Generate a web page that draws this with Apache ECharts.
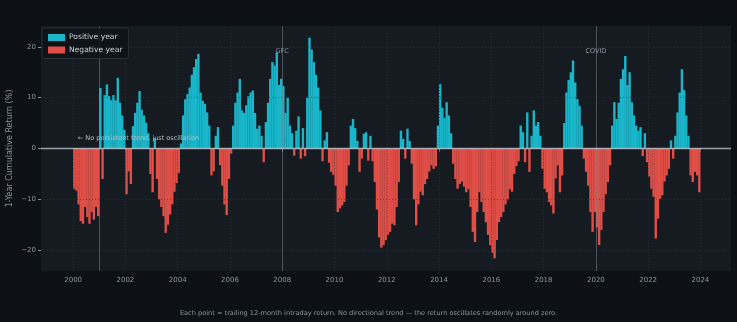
<!DOCTYPE html>
<html>
<head>
<meta charset="utf-8">
<title>1-Year Cumulative Return</title>
<script src="https://cdn.jsdelivr.net/npm/echarts@6/dist/echarts.min.js"></script>
<style>
  html, body { margin: 0; padding: 0; background: #0d1117; }
  #chart { width: 737px; height: 322px; }
</style>
</head>
<body>
<div id="chart"></div>
<script>
// Trailing 12-month return (%), one value per month starting Jan 2000
const startYear = 2000;
const monthlyReturn = [
  // 2000
  -7.9, -8.3, -11.0, -14.3, -14.8, -11.5, -13.5, -14.8, -12.5, -14.0, -11.5, -13.3,
  // 2001
  11.9, -6.0, 10.5, 12.6, 10.3, 9.5, 10.5, 9.5, 13.9, 9.0, 6.5, 3.7,
  // 2002
  -9.0, -4.5, -7.0, 4.4, 7.0, 9.0, 11.3, 7.6, 6.5, 5.1, 3.0, -5.0,
  // 2003
  -8.6, 2.0, -6.0, -10.0, -11.5, -13.3, -16.6, -15.0, -13.0, -11.0, -8.5, -6.8,
  // 2004
  -4.8, 1.0, 6.5, 9.7, 10.7, 12.0, 14.5, 16.0, 17.6, 18.6, 11.0, 9.4,
  // 2005
  8.8, 7.1, 4.5, -5.3, -4.5, 2.5, 4.2, -3.3, -7.3, -11.0, -13.1, -6.0,
  // 2006
  -1.0, 4.5, 9.0, 11.0, 13.7, 7.5, 7.0, 8.5, 10.3, 11.0, 11.4, 7.0,
  // 2007
  3.9, 4.5, 2.5, -2.7, 5.2, 9.0, 13.7, 17.0, 16.3, 18.9, 12.5, 13.7,
  // 2008
  12.3, 7.0, 10.0, 4.5, 3.0, -1.4, 3.5, 6.3, -2.0, 4.0, -1.5, 10.0,
  // 2009
  21.8, 19.5, 17.0, 14.5, 12.0, 7.5, -2.5, 1.6, 3.2, -2.8, -4.6, -5.2,
  // 2010
  -7.3, -12.5, -11.8, -11.2, -10.5, -7.3, -3.3, 4.5, 5.8, 4.0, 1.5, -4.6,
  // 2011
  -2.0, 2.9, 3.2, -2.4, 2.5, -2.5, -6.6, -12.0, -17.5, -19.5, -19.0, -18.0,
  // 2012
  -17.0, -16.4, -14.8, -15.1, -11.5, -6.6, 3.5, 1.9, -2.0, 3.9, 1.5, -3.0,
  // 2013
  -10.0, -15.1, -11.0, -8.5, -9.2, -7.0, -6.0, -4.5, -3.3, -4.0, -3.5, 4.5,
  // 2014
  12.7, 8.0, 6.0, 9.1, 6.5, 3.0, -3.0, -6.0, -7.9, -7.0, -6.5, -7.5,
  // 2015
  -8.6, -8.0, -11.5, -16.4, -18.4, -12.5, -8.6, -10.5, -12.5, -14.5, -17.0, -19.0,
  // 2016
  -20.5, -21.6, -18.0, -14.5, -13.5, -12.5, -11.0, -10.0, -8.0, -8.5, -5.0, -3.5,
  // 2017
  -2.5, 4.5, 3.2, -2.7, 7.1, -4.6, 2.5, 7.5, 4.5, 5.2, 2.5, -4.0,
  // 2018
  -7.9, -8.6, -10.5, -11.2, -12.8, -5.9, -3.3, -8.6, -5.3, 5.0, 11.0, 13.5,
  // 2019
  15.0, 17.3, 13.0, 9.7, 8.4, 4.5, -2.0, -4.6, -7.3, -12.5, -16.4, -12.5,
  // 2020
  -15.5, -19.0, -16.0, -12.5, -9.0, -6.6, -3.3, 4.5, 9.1, 5.8, 9.0, 13.7,
  // 2021
  15.6, 18.2, 12.5, 15.0, 9.1, 6.5, 4.5, 3.5, 4.2, -1.5, 3.0, -2.7,
  // 2022
  -5.5, -7.9, -9.5, -17.7, -13.8, -9.9, -9.2, -6.5, -5.3, -4.0, 1.6, -2.0,
  // 2023
  2.5, 7.1, 11.0, 15.6, 11.5, 6.5, 2.5, -5.3, -6.6, -4.6, -5.3, -8.6
];

const xTicks = [2000, 2002, 2004, 2006, 2008, 2010, 2012, 2014, 2016, 2018, 2020, 2022, 2024];
const yTicks = [-20, -10, 0, 10, 20];
const eventNames = ['Dot-com', 'GFC', 'COVID'];
const eventYears = [2001, 2008, 2020];
const noteText = '\u2190 No persistent trend, just oscillation';
const noteAnchor = [2000.18, 2.0];
const footerText = 'Each point = trailing 12-month intraday return. No directional trend \u2014 the return oscillates randomly around zero.';

const TEAL = '#19b6ca';
const RED = '#df4f48';
const MUTED = '#8b949e';
const FONT = 'DejaVu Sans';

// split the series by sign so each side gets its own colour / legend entry
const positive = [];
const negative = [];
monthlyReturn.forEach(function (v, i) {
  const t = startYear + (i + 0.5) / 12;
  if (v >= 0) positive.push([t, v]); else negative.push([t, v]);
});

const fmtMinus = function (v) { return v < 0 ? '\u2212' + Math.abs(v) : String(v); };

const gridLines = [];
yTicks.forEach(function (v) {
  if (v !== 0) gridLines.push({ yAxis: v });
});
xTicks.forEach(function (v) { gridLines.push({ xAxis: v }); });

const eventLines = eventYears.map(function (y) {
  return { xAxis: y, lineStyle: { color: MUTED, opacity: 0.45, width: 1, type: 'solid' } };
});

const eventLabels = eventYears.map(function (y, i) {
  return { name: eventNames[i], coord: [y, 19.1] };
});

const chart = echarts.init(document.getElementById('chart'), null, { renderer: 'canvas' });

chart.setOption({
  backgroundColor: '#0d1117',
  animation: false,
  textStyle: { fontFamily: FONT },
  grid: {
    left: 41, right: 6, top: 26, bottom: 51,
    outerBoundsMode: 'none', containLabel: false,
    show: true, backgroundColor: '#161b22', borderWidth: 0
  },
  legend: {
    left: 42, top: 28, orient: 'vertical',
    data: ['Positive year', 'Negative year'],
    icon: 'rect', itemWidth: 17, itemHeight: 7, itemGap: 3.5,
    padding: [5, 6, 4, 6],
    backgroundColor: 'rgba(13,17,23,0.8)',
    borderColor: '#30363d', borderWidth: 0.8, borderRadius: 2,
    textStyle: { color: '#c9d1d9', fontSize: 7.6, fontFamily: FONT, lineHeight: 9, padding: [0, 0, 0, -1] },
    z: 20
  },
  xAxis: {
    type: 'value', min: 1998.77, max: 2025.17,
    axisLine: { show: false },
    axisTick: { show: true, customValues: xTicks, length: 3, lineStyle: { color: MUTED } },
    axisLabel: { customValues: xTicks, color: MUTED, fontSize: 7, fontFamily: FONT, margin: 6, formatter: function (v) { return String(v); } },
    splitLine: { show: false }
  },
  yAxis: {
    type: 'value', min: -24.1, max: 24.1,
    name: '1-Year Cumulative Return (%)', nameLocation: 'middle', nameGap: 27,
    nameMoveOverlap: false,
    nameTextStyle: { color: MUTED, fontSize: 8, fontFamily: FONT },
    axisLine: { show: false },
    axisTick: { show: true, customValues: yTicks, length: 3, lineStyle: { color: MUTED } },
    axisLabel: { customValues: yTicks, color: MUTED, fontSize: 7, fontFamily: FONT, margin: 5, formatter: fmtMinus },
    splitLine: { show: false }
  },
  series: [
    {
      name: 'Positive year', type: 'bar', data: positive,
      barWidth: 2.4, barGap: '-100%',
      itemStyle: { color: TEAL }, z: 2
    },
    {
      name: 'Negative year', type: 'bar', data: negative,
      barWidth: 2.4, barGap: '-100%',
      itemStyle: { color: RED }, z: 2
    },
    {
      // reference lines and event markers drawn above the bars
      name: 'overlay', type: 'line', data: [], z: 10, silent: true,
      markLine: {
        silent: true, symbol: 'none', animation: false,
        label: { show: false },
        lineStyle: { color: '#30363d', width: 0.8, type: [1, 2], opacity: 0.7 },
        data: gridLines.concat(eventLines).concat([
          { yAxis: 0, lineStyle: { color: '#c9d1d9', width: 1.3, opacity: 0.75, type: 'solid' } }
        ])
      },
      markPoint: {
        silent: true, symbol: 'circle', symbolSize: 0, animation: false,
        label: { show: true, position: 'inside', color: MUTED, fontSize: 6.5, fontFamily: FONT, formatter: '{b}' },
        data: eventLabels
      }
    }
  ]
});

// footer, plus the note placed in data coordinates on top of the bars
const notePos = chart.convertToPixel({ gridIndex: 0 }, noteAnchor);
chart.setOption({
  graphic: [
    {
      type: 'text', left: 'center', top: 310,
      style: { text: footerText, fill: MUTED, font: '6.6px "DejaVu Sans"' }
    },
    {
      type: 'text', x: notePos[0], y: notePos[1], z: 100,
      style: {
        text: noteText, fill: '#b7bfc7', font: '6.5px "DejaVu Sans"',
        verticalAlign: 'middle'
      }
    }
  ]
});
</script>
</body>
</html>
